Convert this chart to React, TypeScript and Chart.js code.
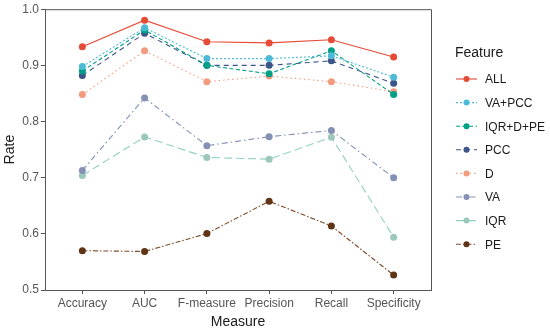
import React, { useEffect, useRef } from "react";
import { Chart, registerables } from "chart.js";

Chart.register(...registerables);

const measures = ["Accuracy", "AUC", "F-measure", "Precision", "Recall", "Specificity"];
const yTicks = [0.5, 0.6, 0.7, 0.8, 0.9, 1.0];

const allVals = [0.933, 0.9805, 0.942, 0.940, 0.9456, 0.915];
const vaPccVals = [0.898, 0.967, 0.912, 0.912, 0.917, 0.879];
const iqrDPeVals = [0.890, 0.963, 0.900, 0.885, 0.926, 0.848];
const pccVals = [0.882, 0.957, 0.900, 0.900, 0.908, 0.868];
const dVals = [0.848, 0.926, 0.871, 0.881, 0.871, 0.853];
const vaVals = [0.713, 0.842, 0.757, 0.773, 0.784, 0.700];
const iqrVals = [0.704, 0.7725, 0.736, 0.733, 0.772, 0.594];
const peVals = [0.570, 0.5686, 0.6005, 0.658, 0.614, 0.5266];

const seriesNames = ["ALL", "VA+PCC", "IQR+D+PE", "PCC", "D", "VA", "IQR", "PE"];
const seriesValues = [allVals, vaPccVals, iqrDPeVals, pccVals, dVals, vaVals, iqrVals, peVals];
const seriesColors = ["#E64B35", "#4DBBD5", "#00A087", "#3C5488", "#F39B7F", "#8491B4", "#91D1C2", "#7E4A2A"];
const pointColors = ["#E64B35", "#4DBBD5", "#00A087", "#3C5488", "#F39B7F", "#8491B4", "#9CC8BC", "#5E3414"];
const seriesDashes: number[][] = [[], [2, 2], [4, 2.5], [5, 4], [1.5, 3], [6, 3, 1.5, 3], [8, 4], [5, 2, 1.5, 2]];

const FONT = "Arial, 'Liberation Sans', Helvetica, sans-serif";

export default function App() {
  const ref = useRef<HTMLCanvasElement | null>(null);
  useEffect(() => {
    if (!ref.current) return;
    const legendPlugin = {
      id: "customLegend",
      afterDraw(chart: any) {
        const ctx = chart.ctx;
        const area = chart.chartArea;
        ctx.save();
        // top and right border
        ctx.strokeStyle = "#555555";
        ctx.lineWidth = 1;
        ctx.beginPath();
        ctx.moveTo(area.left, area.top + 0.5);
        ctx.lineTo(area.right + 0.5, area.top + 0.5);
        ctx.lineTo(area.right + 0.5, area.bottom);
        ctx.stroke();
        // legend
        ctx.fillStyle = "#1a1a1a";
        ctx.font = `14px ${FONT}`;
        ctx.textBaseline = "middle";
        ctx.textAlign = "left";
        ctx.fillText("Feature", 455, 53);
        ctx.font = `12px ${FONT}`;
        seriesNames.forEach((name, i) => {
          const y = 79 + i * 23.6;
          ctx.strokeStyle = seriesColors[i];
          ctx.lineWidth = 1.1;
          ctx.setLineDash(seriesDashes[i]);
          ctx.beginPath();
          ctx.moveTo(456, y);
          ctx.lineTo(477, y);
          ctx.stroke();
          ctx.setLineDash([]);
          ctx.fillStyle = pointColors[i];
          ctx.beginPath();
          ctx.arc(466.5, y, 3, 0, Math.PI * 2);
          ctx.fill();
          ctx.fillStyle = "#1a1a1a";
          ctx.fillText(name, 485, y + 1);
        });
        ctx.restore();
      },
    };
    const chart = new Chart(ref.current, {
      type: "line",
      data: {
        datasets: seriesNames.map((name, i) => ({
          label: name,
          data: seriesValues[i].map((v, j) => ({ x: j, y: v })),
          borderColor: seriesColors[i],
          backgroundColor: pointColors[i],
          pointBackgroundColor: pointColors[i],
          pointBorderWidth: 0,
          pointRadius: 3.5,
          borderWidth: 1.1,
          borderDash: seriesDashes[i],
          tension: 0,
          fill: false,
        })),
      },
      options: {
        animation: false,
        responsive: false,
        layout: { padding: { top: 8, right: 119, left: 0, bottom: 0 } },
        plugins: { legend: { display: false }, tooltip: { enabled: false } },
        scales: {
          x: {
            type: "linear",
            min: -0.6,
            max: 5.6,
            afterBuildTicks: (s: any) => {
              s.ticks = measures.map((_, i) => ({ value: i }));
            },
            afterFit: (s: any) => {
              s.height = 41;
            },
            ticks: {
              callback: (v: any) => measures[v as number] ?? "",
              color: "#555555",
              font: { family: FONT, size: 12 },
              padding: 2,
              maxRotation: 0,
              autoSkip: false,
            },
            grid: { drawOnChartArea: false, drawTicks: true, tickLength: 4, color: "#555555" },
            border: { display: true, color: "#555555", width: 1 },
            title: { display: true, text: "Measure", color: "#1a1a1a", font: { family: FONT, size: 14 }, padding: { top: 0, bottom: 0 } },
          },
          y: {
            type: "linear",
            min: 0.5,
            max: 1.0,
            afterBuildTicks: (s: any) => {
              s.ticks = yTicks.map((v) => ({ value: v }));
            },
            afterFit: (s: any) => {
              s.width = 45;
            },
            ticks: {
              callback: (v: any) => Number(v).toFixed(1),
              color: "#555555",
              font: { family: FONT, size: 12 },
              padding: 2,
            },
            grid: { drawOnChartArea: false, drawTicks: true, tickLength: 4, color: "#555555" },
            border: { display: true, color: "#555555", width: 1 },
            title: { display: true, text: "Rate", color: "#1a1a1a", font: { family: FONT, size: 14 }, padding: { top: 2, bottom: 0 } },
          },
        },
      },
      plugins: [legendPlugin],
    });
    return () => chart.destroy();
  }, []);
  return (
    <div style={{ position: "fixed", left: 0, top: 0, width: 550, height: 331, background: "#fff" }}>
      <canvas ref={ref} width={550} height={331} style={{ width: 550, height: 331 }} />
    </div>
  );
}
